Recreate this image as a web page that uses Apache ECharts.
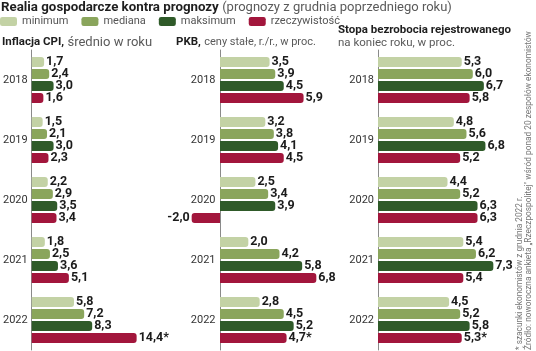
<!DOCTYPE html>
<html>
<head>
<meta charset="utf-8">
<script src="https://cdn.jsdelivr.net/npm/echarts@6/dist/echarts.min.js"></script>
<style>
  html, body { margin: 0; padding: 0; background: #fff; }
  #chart { width: 536px; height: 351px; }
</style>
</head>
<body>
<div id="chart"></div>
<script>
// lata i serie
var years = ['2018', '2019', '2020', '2021', '2022'];
var seriesNames = ['minimum', 'mediana', 'maksimum', 'rzeczywistość'];
var colors = ['#c3d2a5', '#8aa55c', '#2f5a29', '#a2163c'];

// Inflacja CPI
var cpiMin = [1.7, 1.5, 2.2, 1.8, 5.8];
var cpiMed = [2.4, 2.1, 2.9, 2.5, 7.2];
var cpiMax = [3.0, 3.0, 3.5, 3.6, 8.3];
var cpiAct = [1.6, 2.3, 3.4, 5.1, 14.4];

// PKB
var gdpMin = [3.5, 3.2, 2.5, 2.0, 2.8];
var gdpMed = [3.9, 3.8, 3.4, 4.2, 4.5];
var gdpMax = [4.5, 4.1, 3.9, 5.8, 5.2];
var gdpAct = [5.9, 4.5, -2.0, 6.8, 4.7];

// Stopa bezrobocia
var unMin = [5.3, 4.8, 4.4, 5.4, 4.5];
var unMed = [6.0, 5.6, 5.2, 6.2, 5.2];
var unMax = [6.7, 6.8, 6.3, 7.3, 5.8];
var unAct = [5.8, 5.2, 6.3, 5.4, 5.3];

// * szacunki (tylko rzeczywistość 2022)
var estimated = [false, false, false, false, true];

var FONT = "Roboto, 'Liberation Sans', sans-serif";

var chart = echarts.init(document.getElementById('chart'));

function makeSeries(idx, name, values, color, star) {
  return {
    name: name,
    type: 'bar',
    xAxisIndex: idx,
    yAxisIndex: idx,
    barWidth: 10,
    barGap: '20%',
    barCategoryGap: '23%',
    itemStyle: { color: color },
    label: {
      show: true,
      distance: 2,
      color: '#1b1b1b',
      fontFamily: FONT,
      fontWeight: 'bold',
      fontSize: 12.5,
      formatter: function (p) {
        var s = p.value.toFixed(1).replace('.', ',');
        if (star && estimated[p.dataIndex]) s += '*';
        return s;
      }
    },
    data: values.map(function (v) {
      return {
        value: v,
        itemStyle: { borderRadius: v < 0 ? [3, 0, 0, 3] : [0, 3, 3, 0] },
        label: { position: v < 0 ? 'left' : 'right' }
      };
    })
  };
}

var grids = [
  { left: 30, width: 111, top: 50, height: 300 },
  { left: 177.5, width: 170, top: 50, height: 300 },
  { left: 378, width: 142.2, top: 50, height: 300 }
];
var xRanges = [[0, 15], [-3, 9], [0, 9]];
// pkb: os na zerze, wiec etykiety lat przesuniete do osi
var labelMargins = [4, -38, 4];

var xAxes = xRanges.map(function (r, i) {
  return { type: 'value', gridIndex: i, min: r[0], max: r[1], show: false };
});
var yAxes = [0, 1, 2].map(function (i) {
  return {
    type: 'category',
    gridIndex: i,
    data: years,
    inverse: true,
    axisTick: { show: false },
    axisLine: { show: true, onZero: true, lineStyle: { color: '#8a8a8a', width: 1 } },
    axisLabel: { color: '#333', fontSize: 11, margin: labelMargins[i], fontFamily: FONT }
  };
});

var series = [];
[[cpiMin, cpiMed, cpiMax, cpiAct], [gdpMin, gdpMed, gdpMax, gdpAct], [unMin, unMed, unMax, unAct]]
  .forEach(function (set, gi) {
    set.forEach(function (vals, si) {
      series.push(makeSeries(gi, seriesNames[si], vals, colors[si], si === 3));
    });
  });

var option = {
  backgroundColor: '#fff',
  animation: false,
  color: colors,
  legend: {
    data: seriesNames,
    left: 0,
    top: 16,
    padding: 0,
    itemWidth: 17,
    itemHeight: 9,
    itemGap: 13,
    icon: 'roundRect',
    textStyle: { color: '#555', fontSize: 11, fontFamily: FONT }
  },
  grid: grids,
  xAxis: xAxes,
  yAxis: yAxes,
  series: series,
  graphic: [
    {
      type: 'text', left: 1, top: 1,
      style: {
        text: '{b|Realia gospodarcze kontra prognozy} {n|(prognozy z grudnia poprzedniego roku)}',
        rich: {
          b: { fontFamily: FONT, fontWeight: 'bold', fontSize: 13.3, fill: '#1e1e1e' },
          n: { fontFamily: FONT, fontSize: 13, fill: '#5a5a5a' }
        }
      }
    },
    {
      type: 'text', left: 2, top: 36,
      style: {
        text: '{b|Inflacja CPI,} {n|średnio w roku}',
        rich: {
          b: { fontFamily: FONT, fontWeight: 'bold', fontSize: 11.5, fill: '#1e1e1e' },
          n: { fontFamily: FONT, fontSize: 13, fill: '#5a5a5a' }
        }
      }
    },
    {
      type: 'text', left: 176, top: 36,
      style: {
        text: '{b|PKB,} {n|ceny stałe, r./r., w proc.}',
        rich: {
          b: { fontFamily: FONT, fontWeight: 'bold', fontSize: 11.5, fill: '#1e1e1e' },
          n: { fontFamily: FONT, fontSize: 11, fill: '#5a5a5a' }
        }
      }
    },
    {
      type: 'text', left: 338, top: 24,
      style: {
        text: '{b|Stopa bezrobocia rejestrowanego}\n{n|na koniec roku, w proc.}',
        rich: {
          b: { fontFamily: FONT, fontWeight: 'bold', fontSize: 11.5, fill: '#1e1e1e', lineHeight: 13 },
          n: { fontFamily: FONT, fontSize: 11.5, fill: '#5a5a5a', lineHeight: 13 }
        }
      }
    },
    {
      type: 'text', x: 520, y: 350, rotation: Math.PI / 2,
      style: {
        text: '* szacunki ekonomistów z grudnia 2022 r.',
        fontFamily: FONT, fontSize: 8.3, fill: '#777',
        textAlign: 'left', textVerticalAlign: 'middle'
      }
    },
    {
      type: 'text', x: 529, y: 350, rotation: Math.PI / 2,
      style: {
        text: 'Źródło: noworoczna ankieta „Rzeczpospolitej" wśród ponad 20 zespołów ekonomistów',
        fontFamily: FONT, fontSize: 8.3, fill: '#777',
        textAlign: 'left', textVerticalAlign: 'middle'
      }
    }
  ]
};

chart.setOption(option);
</script>
</body>
</html>
